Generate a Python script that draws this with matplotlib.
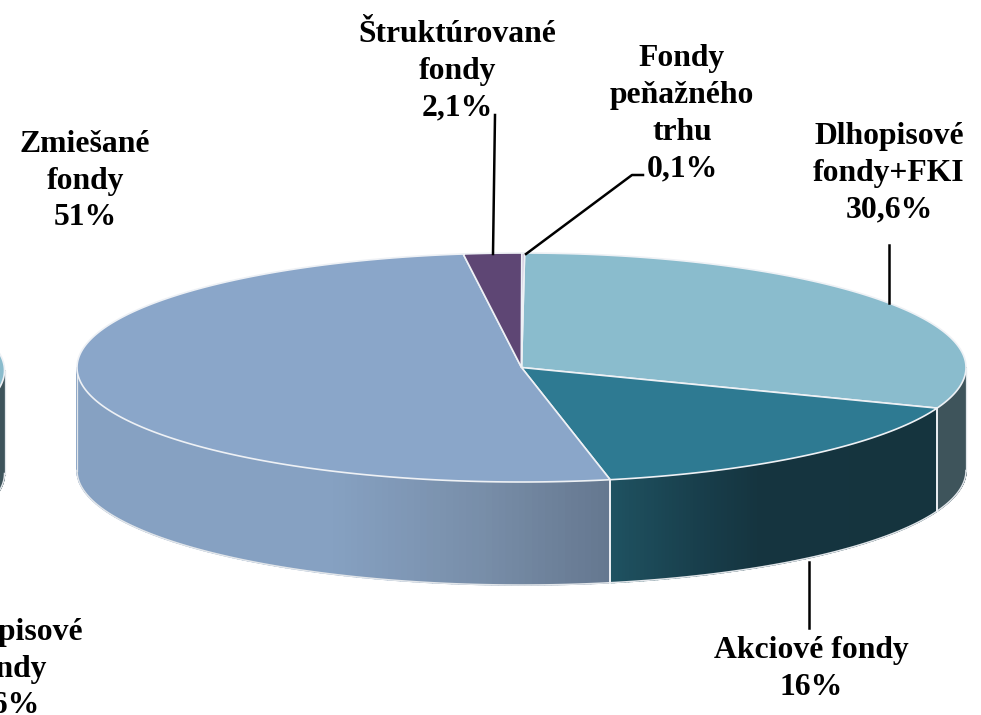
import numpy as np
import matplotlib
matplotlib.use("Agg")
import matplotlib.pyplot as plt
from matplotlib.colors import to_rgb

# clockwise from the top of the pie
labels = ["Dlhopisové\nfondy+FKI\n30,6%", "Akciové fondy\n16%", "Zmiešané\nfondy\n51%",
          "Štruktúrované\nfondy\n2,1%", "Fondy\npeňažného\ntrhu\n0,1%"]
values = [30.6, 16, 51, 2.1, 0.1]
top_colors = ["#8abccd", "#2e7a92", "#8aa6c9", "#5e4674", "#c9bcd8"]
# side wall colours: (x pixel, colour) stops
side_stops = [
    [(937, "#3e545b"), (966, "#3e545b")],
    [(610, "#1f5261"), (700, "#183e4b"), (760, "#15343f"), (937, "#15343e")],
    [(77, "#86a1c2"), (330, "#86a1c2"), (480, "#788ea9"), (610, "#65778f")],
    [(0, "#5e4674"), (981, "#5e4674")],
    [(0, "#c9bcd8"), (981, "#c9bcd8")],
]

label_pos = [(889, 173), (811, 669), (85, 181), (457, 71), (682, 114)]
leaders = [
    [(889, 245), (889, 303)],
    [(809, 562), (809, 628)],
    [(495, 115), (493, 254)],
    [(526, 254), (632, 175), (643, 175)],
]

cx, cy = 521.5, 367.5
rx, ry = 444.5, 114.5
depth = 103
start_angle = np.radians(0.4)
ghost_dx = -961.5
edge = "#eef1f5"


def lerp_color(stops, x):
    xs = [s[0] for s in stops]
    rgb = np.array([to_rgb(s[1]) for s in stops])
    return [np.interp(x, xs, rgb[:, i]) for i in range(3)]


def draw_pie(ax, dx, dy):
    total = sum(values)
    edges = start_angle + np.concatenate([[0], np.cumsum(values)]) / total * 2 * np.pi
    ox, oy = cx + dx, cy + dy

    def pt(a):
        # angle measured clockwise from the top
        return ox + rx * np.sin(a), oy - ry * np.cos(a)

    # side walls
    for i in range(len(values)):
        a0, a1 = edges[i], edges[i + 1]
        lo, hi = max(a0, np.pi / 2), min(a1, 3 * np.pi / 2)
        if hi <= lo:
            continue
        aa = np.linspace(lo, hi, 120)
        for a, b in zip(aa[:-1], aa[1:]):
            x0, y0 = pt(a)
            x1, y1 = pt(b)
            c = lerp_color(side_stops[i], (x0 + x1) / 2 - dx)
            ax.fill([x0, x1, x1, x0], [y0, y1, y1 + depth, y0 + depth],
                    color=c, lw=1.0, zorder=2)
        xs, ys = pt(aa)
        ax.plot(xs, ys + depth, color="#e2e6ea", lw=1.1, zorder=3)
        # seams on the wall
        for a in (a0, a1):
            if np.pi / 2 < a < 3 * np.pi / 2:
                x, y = pt(a)
                ax.plot([x, x], [y, y + depth], color=edge, lw=1.2, zorder=3)
    for a in (np.pi / 2, 3 * np.pi / 2):
        x, y = pt(a)
        ax.plot([x, x], [y, y + depth], color="#e2e6ea", lw=0.9, zorder=3)

    # top faces
    for i in range(len(values)):
        aa = np.linspace(edges[i], edges[i + 1], 200)
        xs, ys = pt(aa)
        ax.fill(np.r_[ox, xs], np.r_[oy, ys], facecolor=top_colors[i],
                edgecolor=edge, lw=1.2, zorder=4)


fig = plt.figure(figsize=(9.81, 7.15), dpi=100)
ax = fig.add_axes([0, 0, 1, 1])
ax.set_xlim(0, 981)
ax.set_ylim(715, 0)
ax.axis("off")

draw_pie(ax, 0, 0)
draw_pie(ax, ghost_dx, 3)

for line in leaders:
    ax.plot([p[0] for p in line], [p[1] for p in line], color="black", lw=1.8, zorder=5)

font = dict(family="Liberation Serif", fontweight="bold", fontsize=22.8, color="black",
            ha="center", va="center", linespacing=1.36, zorder=6)
for txt, (x, y) in zip(labels, label_pos):
    ax.text(x, y, txt, **font)
# label of the neighbouring pie, cut by the edge
ax.text(8, 669, "Dlhopisové\nfondy\n16%", clip_on=True, **font)

fig.savefig("out.png", dpi=100, facecolor="white")
